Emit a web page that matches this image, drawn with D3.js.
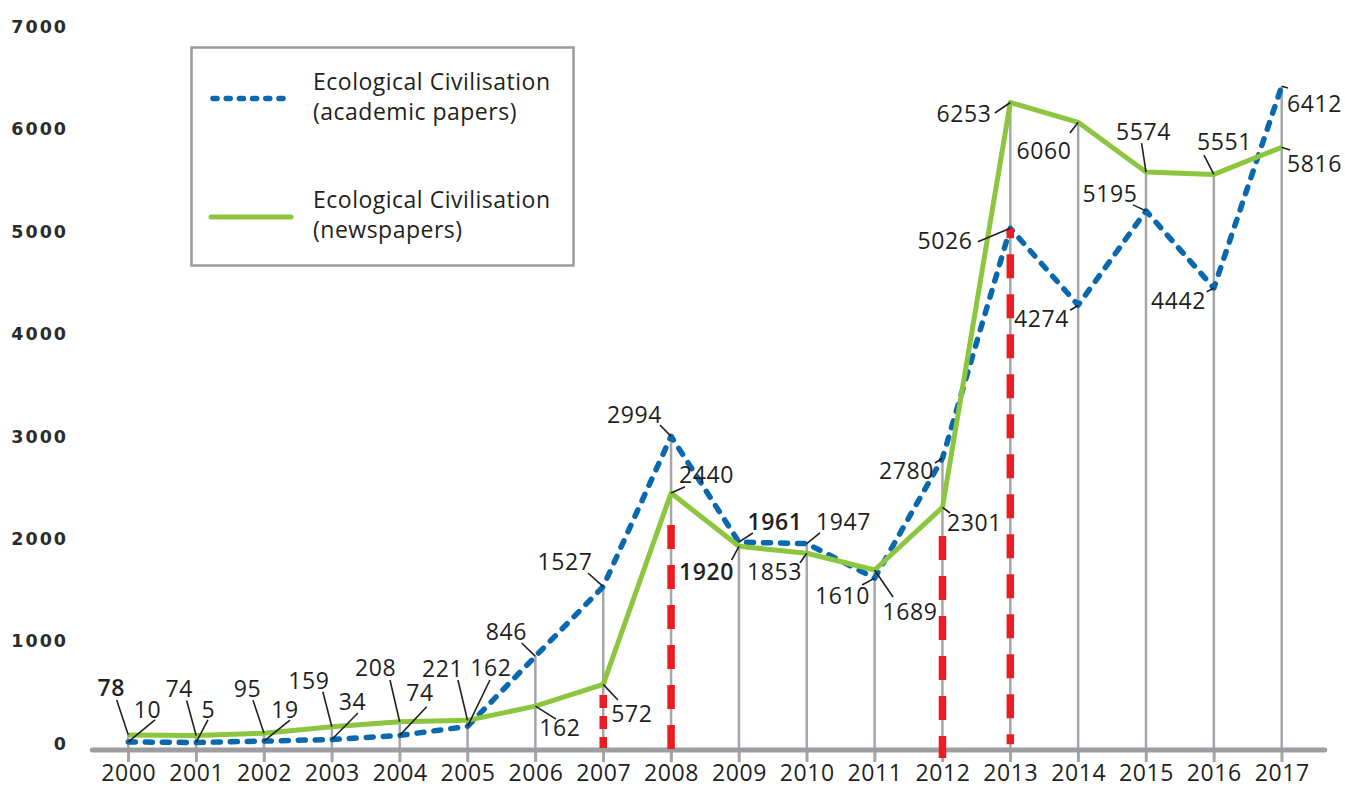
<!DOCTYPE html>
<html>
<head>
<meta charset="utf-8">
<script src="https://cdn.jsdelivr.net/npm/d3@7/dist/d3.min.js"></script>
<style>
  html, body { margin: 0; padding: 0; background: #ffffff; }
  svg { display: block; }
</style>
</head>
<body>
<svg id="chart" width="1345" height="788"></svg>
<script>
// ---------- DATA ----------
const years = [2000, 2001, 2002, 2003, 2004, 2005, 2006, 2007, 2008, 2009, 2010, 2011, 2012, 2013, 2014, 2015, 2016, 2017];
const academicPapers = [10, 5, 19, 34, 74, 162, 846, 1527, 2994, 1961, 1947, 1610, 2780, 5026, 4274, 5195, 4442, 6412];
// plotted positions of the newspaper series (2006 point is drawn near 360 although labelled 162)
const newspapers = [78, 74, 95, 159, 208, 221, 360, 572, 2440, 1920, 1853, 1689, 2301, 6253, 6060, 5574, 5551, 5816];
const academicLabels = ["10", "5", "19", "34", "74", "162", "846", "1527", "2994", "1961", "1947", "1610", "2780", "5026", "4274", "5195", "4442", "6412"];
const newspaperLabels = ["78", "74", "95", "159", "208", "221", "162", "572", "2440", "1920", "1853", "1689", "2301", "6253", "6060", "5574", "5551", "5816"];
const yTicks = [0, 1000, 2000, 3000, 4000, 5000, 6000, 7000];
const seriesNames = [["Ecological Civilisation", "(academic papers)"], ["Ecological Civilisation", "(newspapers)"]];
// red dashed event markers: year and top value
const eventYears = [2007, 2008, 2012, 2013];
const eventTops = [469, 2128, 2021, 5026];

// ---------- LAYOUT (label offsets relative to the point: text centre dx,dy ; leader end lx,ly) ----------
const newsOffsets = [
  [-17, -47, -11.6, -35], [-17, -47, -9.5, -35], [-16.5, -45, -11, -33], [-23, -46, -9, -35],
  [-24, -54, -9.7, -41.7], [-25, -52, -9.6, -40.4], [24.6, 22, 20.6, 13], [28.7, 29.6, 14.7, 15.6],
  [35.4, -18, 13.9, -6.4], [-32.5, 25.7, -7.3, 13.7], [-32.3, 18.8, -6.8, 9.8], [35.4, 42, 18.4, 27],
  [32, 15.7, 7.5, 5.7], [-46.4, 11.5, -15.4, 10.5], [-34.2, 28.7, -8.2, 10.7], [-2.6, -40, -4.4, -29],
  [10.6, -32.4, -9.9, -19.4], [32.8, 16.2, 8.3, 2.7]
];
const acadOffsets = [
  [19.2, -32, 26.7, -22], [12.3, -32.5, 11.8, -22.5], [21, -31, 26, -21], [20.6, -38, 26.1, -26.5],
  [20.3, -42.4, 27, -28.7], [23.4, -58.4, 22.4, -46.4], [-28.9, -24.3, -13.7, -13.3], [-38.3, -24.6, -15.3, -13.6],
  [-36.6, -21.3, -11.1, -11.3], [36, -20.1, 14, -9.1], [36.7, -21.6, 13.2, -10.6], [-32.1, 17.9, -12.6, 6.9],
  [-36, 12.8, -7.5, 4.8], [-65.4, 12.8, -32.4, 13.5], [-36.7, 13.8, -8, 5], [-36.1, -16.9, -13, -6],
  [-35.4, 13, -7.2, 3.7], [32.8, 17.3, 6.3, 1.8]
];

const C = {
  blue: "#0a68ae",
  green: "#8cc63f",
  red: "#ed1c24",
  grid: "#a5a6aa",
  axis: "#9d9ea2",
  text: "#231f20"
};

const svg = d3.select("#chart");
const x = d3.scaleLinear().domain([2000, 2017]).range([128.3, 1281.7]);
const y = d3.scaleLinear().domain([0, 7000]).range([743, 26]);
const axisY = 750, tickBottom = 762;

// vertical gray lines from the higher point to below the axis
svg.append("g").selectAll("line").data(years).join("line")
  .attr("x1", d => x(d)).attr("x2", d => x(d))
  .attr("y1", (d, i) => y(Math.max(academicPapers[i], newspapers[i])))
  .attr("y2", tickBottom)
  .attr("stroke", C.grid).attr("stroke-width", 2.5);

// x axis
const xAxis = d3.axisBottom(x).tickValues(years).tickFormat(d3.format("d")).tickSize(tickBottom - axisY).tickPadding(0);
const gx = svg.append("g").attr("transform", `translate(0,${axisY})`).call(xAxis);
gx.select(".domain").remove();
gx.selectAll(".tick line").attr("stroke", C.grid).attr("stroke-width", 2.5);
gx.selectAll(".tick text")
  .attr("y", 31).attr("dy", 0)
  .attr("fill", C.text)
  .style("font-family", "'Open Sans', sans-serif")
  .style("font-size", "23px")
  .style("letter-spacing", "0.6px");
svg.append("line")
  .attr("x1", x(2000) - 36).attr("x2", x(2017) + 43)
  .attr("y1", axisY).attr("y2", axisY)
  .attr("stroke", C.axis).attr("stroke-width", 5).attr("stroke-linecap", "round");

// y axis labels
const yAxis = d3.axisLeft(y).tickValues(yTicks).tickFormat(d3.format("d")).tickSize(0).tickPadding(0);
const gy = svg.append("g").attr("transform", "translate(68,0)").call(yAxis);
gy.select(".domain").remove();
gy.selectAll(".tick text")
  .attr("fill", "#2b2b2b")
  .attr("dy", "0.36em")
  .style("font-family", "'DejaVu Sans', sans-serif")
  .style("font-weight", "bold")
  .style("font-size", "17.5px")
  .style("letter-spacing", "2px");

// lines
const line = (vals) => d3.line().x((d, i) => x(years[i])).y(d => y(d))(vals);
svg.append("path").attr("d", line(academicPapers))
  .attr("fill", "none").attr("stroke", C.blue).attr("stroke-width", 5.5)
  .attr("stroke-dasharray", "7 10").attr("stroke-linecap", "round").attr("stroke-linejoin", "round");
svg.append("path").attr("d", line(newspapers))
  .attr("fill", "none").attr("stroke", C.green).attr("stroke-width", 5)
  .attr("stroke-linejoin", "round");

// red dashed event lines (on top)
svg.append("g").selectAll("line").data(eventYears).join("line")
  .attr("x1", d => x(d)).attr("x2", d => x(d))
  .attr("y1", (d, i) => y(eventTops[i]))
  .attr("y2", (d, i) => d === 2007 ? axisY - 2 : 758)
  .attr("stroke", C.red).attr("stroke-width", 7.5)
  .attr("stroke-dasharray", d => d === 2007 ? "13 8" : (d === 2013 ? "10 16 24 16 24 16 24 16 24 16 24 16 24 16 24 16 24 16 24 16 24 16 24 16 24 16" : "24 16"));

// labels + leader lines
function drawLabels(vals, labels, offs, boldSet) {
  const g = svg.append("g");
  g.selectAll("line").data(vals).join("line")
    .attr("x1", (d, i) => x(years[i])).attr("y1", d => y(d))
    .attr("x2", (d, i) => x(years[i]) + offs[i][2]).attr("y2", (d, i) => y(d) + offs[i][3])
    .attr("stroke", C.text).attr("stroke-width", 1.6);
  g.selectAll("text").data(vals).join("text")
    .attr("x", (d, i) => x(years[i]) + offs[i][0])
    .attr("y", (d, i) => y(d) + offs[i][1])
    .attr("dy", "0.36em")
    .attr("text-anchor", "middle")
    .attr("fill", C.text)
    .style("font-family", "'Open Sans', sans-serif")
    .style("font-size", "23px")
    .style("letter-spacing", "0.6px")
    .style("font-weight", (d, i) => boldSet.includes(labels[i]) ? 600 : 400)
    .text((d, i) => labels[i]);
}
drawLabels(newspapers, newspaperLabels, newsOffsets, ["78", "1920"]);
drawLabels(academicPapers, academicLabels, acadOffsets, ["1961"]);

// legend
const lg = svg.append("g");
lg.append("rect").attr("x", 191.5).attr("y", 47.5).attr("width", 382).attr("height", 218)
  .attr("fill", "#fff").attr("stroke", "#9b9b9b").attr("stroke-width", 2.5);
lg.append("line").attr("x1", 213).attr("x2", 287).attr("y1", 98.5).attr("y2", 98.5)
  .attr("stroke", C.blue).attr("stroke-width", 5.5).attr("stroke-linecap", "round").attr("stroke-dasharray", "4 9.2");
lg.append("line").attr("x1", 211).attr("x2", 291).attr("y1", 217).attr("y2", 217)
  .attr("stroke", C.green).attr("stroke-width", 5).attr("stroke-linecap", "round");
const legendBase = [[90, 120], [208, 238]];
seriesNames.forEach((lines, s) => {
  lines.forEach((t, k) => {
    lg.append("text").attr("x", 313).attr("y", legendBase[s][k])
      .attr("fill", C.text)
      .style("font-family", "'Open Sans', sans-serif")
      .style("font-size", "23px")
      .style("letter-spacing", "0.5px")
      .text(t);
  });
});
</script>
</body>
</html>
